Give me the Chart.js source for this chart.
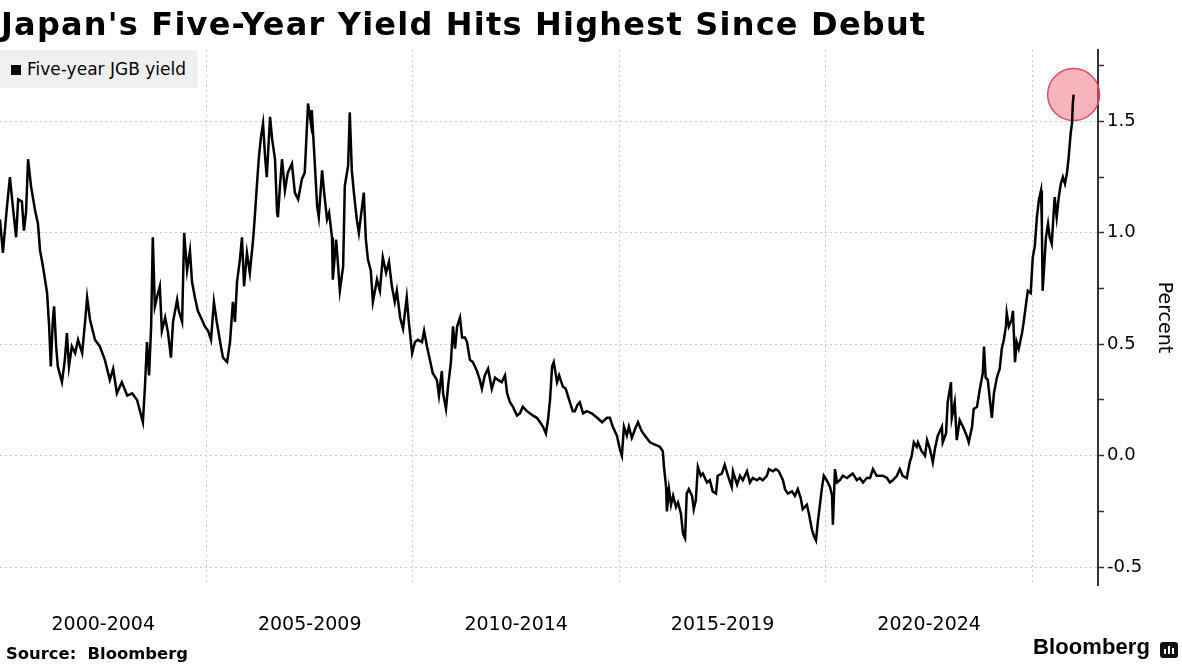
<!DOCTYPE html>
<html>
<head>
<meta charset="utf-8">
<title>Japan's Five-Year Yield Hits Highest Since Debut</title>
<script src="https://cdn.jsdelivr.net/npm/chart.js@4.4.1/dist/chart.umd.min.js"></script>
<style>
  body { margin: 0; background: #fff; }
  #wrap { position: relative; width: 1182px; height: 665px; overflow: hidden; font-family: "DejaVu Sans", Verdana, sans-serif; color: #000; }
  #chart { position: absolute; left: 0; top: 0; }
  .title { position: absolute; left: 1px; top: 5px; font-size: 32px; font-weight: bold; letter-spacing: 1.2px; white-space: nowrap; }
  .legend { position: absolute; left: 0; top: 50px; width: 197px; height: 38px; background: #f0f0f0; font-size: 17px; line-height: 38px; white-space: nowrap; }
  .legend i { display: inline-block; width: 10px; height: 10px; background: #000; margin: 0 6px 0 11px; }
  .source { position: absolute; left: 6px; top: 644px; font-size: 16.4px; font-weight: bold; white-space: nowrap; }
  .brand { position: absolute; left: 1033px; top: 634px; font-family: "Liberation Sans", Arial, sans-serif; font-size: 22px; font-weight: bold; letter-spacing: 0.1px; }
  .mark { position: absolute; left: 1160px; top: 642px; width: 18px; height: 16px; background: #111; border-radius: 3px; }
  .mark b { position: absolute; bottom: 4px; width: 2px; background: #fff; }
</style>
</head>
<body>
<div id="wrap">
  <canvas id="chart" width="1182" height="665"></canvas>
  <div class="title">Japan's Five-Year Yield Hits Highest Since Debut</div>
  <div class="legend"><i></i>Five-year JGB yield</div>
  <div class="source">Source:&nbsp; Bloomberg</div>
  <div class="brand">Bloomberg</div>
  <div class="mark"><b style="left:4px;height:5px"></b><b style="left:8px;height:8px"></b><b style="left:12px;height:6px"></b></div>
</div>
<script>
// five-year JGB yield (decimal year, percent)
const years = [
  2000.00, 2000.07, 2000.17, 2000.24, 2000.31, 2000.39, 2000.44, 2000.53, 2000.58, 2000.63, 2000.68, 2000.75, 2000.85, 2000.92, 2000.97,
  2001.04, 2001.14, 2001.19, 2001.23, 2001.28, 2001.31, 2001.36, 2001.40, 2001.50, 2001.57, 2001.62, 2001.67, 2001.74, 2001.82, 2001.89, 2001.99,
  2002.06, 2002.11, 2002.18, 2002.30, 2002.42, 2002.54, 2002.66, 2002.74, 2002.83, 2002.95,
  2003.08, 2003.20, 2003.32, 2003.46, 2003.51, 2003.56, 2003.61, 2003.66, 2003.70, 2003.75, 2003.80, 2003.87, 2003.92,
  2004.00, 2004.07, 2004.14, 2004.19, 2004.29, 2004.33, 2004.41, 2004.46, 2004.53, 2004.60, 2004.65, 2004.72, 2004.79, 2004.89, 2004.96,
  2005.04, 2005.11, 2005.18, 2005.25, 2005.35, 2005.40, 2005.50, 2005.57, 2005.64, 2005.69, 2005.74, 2005.81, 2005.86, 2005.91, 2005.98,
  2006.05, 2006.13, 2006.17, 2006.22, 2006.27, 2006.32, 2006.37, 2006.42, 2006.46, 2006.54, 2006.59, 2006.66, 2006.71, 2006.73, 2006.78, 2006.83, 2006.90, 2006.97,
  2007.07, 2007.14, 2007.22, 2007.31, 2007.38, 2007.46, 2007.53, 2007.55, 2007.60, 2007.68, 2007.72, 2007.80, 2007.85, 2007.92, 2007.97,
  2008.04, 2008.06, 2008.14, 2008.18, 2008.23, 2008.31, 2008.35, 2008.43, 2008.47, 2008.52, 2008.57, 2008.64, 2008.69, 2008.77, 2008.81, 2008.86, 2008.91, 2008.98,
  2009.03, 2009.08, 2009.13, 2009.20, 2009.27, 2009.35, 2009.42, 2009.49, 2009.56, 2009.61, 2009.69, 2009.76, 2009.85, 2009.90, 2009.98,
  2010.05, 2010.12, 2010.22, 2010.27, 2010.34, 2010.41, 2010.48, 2010.58, 2010.63, 2010.70, 2010.73, 2010.80, 2010.85, 2010.92, 2010.97,
  2011.02, 2011.07, 2011.14, 2011.19, 2011.26, 2011.31, 2011.38, 2011.45, 2011.55, 2011.62, 2011.67, 2011.74, 2011.82, 2011.91, 2011.99,
  2012.06, 2012.15, 2012.23, 2012.28, 2012.35, 2012.42, 2012.52, 2012.59, 2012.66, 2012.76, 2012.83, 2012.91,
  2013.00, 2013.08, 2013.15, 2013.22, 2013.27, 2013.32, 2013.37, 2013.41, 2013.49, 2013.54, 2013.63, 2013.70, 2013.80, 2013.87, 2013.92, 2013.99,
  2014.04, 2014.12, 2014.21, 2014.33, 2014.46, 2014.58, 2014.70, 2014.77, 2014.84, 2014.94,
  2015.01, 2015.06, 2015.11, 2015.18, 2015.23, 2015.30, 2015.38, 2015.45, 2015.54, 2015.62, 2015.74, 2015.86, 2015.98,
  2016.05, 2016.08, 2016.13, 2016.15, 2016.20, 2016.25, 2016.30, 2016.37, 2016.42, 2016.49, 2016.54, 2016.59, 2016.63, 2016.68, 2016.76, 2016.80, 2016.85, 2016.90,
  2016.97, 2017.02, 2017.12, 2017.19, 2017.26, 2017.34, 2017.38, 2017.48, 2017.55, 2017.63, 2017.72, 2017.75, 2017.85, 2017.92,
  2017.99, 2018.09, 2018.16, 2018.23, 2018.33, 2018.40, 2018.47, 2018.57, 2018.62, 2018.72, 2018.79, 2018.86, 2018.96,
  2019.01, 2019.08, 2019.18, 2019.25, 2019.32, 2019.39, 2019.44, 2019.54, 2019.59, 2019.66, 2019.71, 2019.76, 2019.81, 2019.85, 2019.90, 2019.95,
  2020.02, 2020.10, 2020.15, 2020.17, 2020.22, 2020.27, 2020.34, 2020.41, 2020.51, 2020.58, 2020.65, 2020.75, 2020.82, 2020.90, 2020.99,
  2021.07, 2021.14, 2021.23, 2021.31, 2021.38, 2021.48, 2021.55, 2021.62, 2021.72, 2021.79, 2021.86, 2021.96,
  2022.03, 2022.08, 2022.13, 2022.20, 2022.23, 2022.32, 2022.40, 2022.45, 2022.52, 2022.59, 2022.64, 2022.71, 2022.81, 2022.83, 2022.91, 2022.95, 2023.03, 2023.05, 2023.12,
  2023.17, 2023.24, 2023.32, 2023.41, 2023.46, 2023.54, 2023.58, 2023.66, 2023.73, 2023.80, 2023.83, 2023.87, 2023.92, 2023.99,
  2024.02, 2024.07, 2024.14, 2024.21, 2024.26, 2024.31, 2024.36, 2024.38, 2024.43, 2024.50, 2024.53, 2024.58, 2024.62, 2024.67, 2024.75, 2024.79, 2024.84, 2024.89, 2024.96,
  2025.01, 2025.06, 2025.11, 2025.16, 2025.21, 2025.23, 2025.25, 2025.30, 2025.33, 2025.38, 2025.42, 2025.47, 2025.50, 2025.54, 2025.59, 2025.64, 2025.69, 2025.74, 2025.79, 2025.84, 2025.88, 2025.93, 2025.96, 2025.98, 2026.00
];
const yields = [
  1.06, 0.91, 1.12, 1.25, 1.12, 0.98, 1.15, 1.14, 1.01, 1.09, 1.33, 1.21, 1.10, 1.04, 0.92,
  0.85, 0.73, 0.58, 0.40, 0.61, 0.67, 0.49, 0.40, 0.33, 0.43, 0.55, 0.40, 0.49, 0.46, 0.52, 0.46,
  0.60, 0.71, 0.61, 0.52, 0.49, 0.43, 0.34, 0.39, 0.28, 0.33,
  0.27, 0.28, 0.25, 0.15, 0.31, 0.51, 0.36, 0.58, 0.98, 0.67, 0.71, 0.76, 0.56,
  0.62, 0.55, 0.44, 0.60, 0.70, 0.65, 0.60, 1.00, 0.83, 0.92, 0.78, 0.71, 0.65, 0.61, 0.58,
  0.56, 0.52, 0.69, 0.60, 0.49, 0.44, 0.42, 0.51, 0.69, 0.60, 0.78, 0.88, 0.98, 0.76, 0.91,
  0.82, 0.97, 1.07, 1.21, 1.34, 1.43, 1.49, 1.34, 1.25, 1.52, 1.42, 1.33, 1.09, 1.07, 1.21, 1.33, 1.19, 1.27,
  1.31, 1.18, 1.15, 1.24, 1.27, 1.58, 1.49, 1.55, 1.39, 1.12, 1.07, 1.28, 1.18, 1.06, 1.09,
  0.98, 0.79, 0.97, 0.87, 0.74, 0.85, 1.21, 1.30, 1.54, 1.28, 1.18, 1.06, 1.00, 1.12, 1.18, 0.97, 0.88, 0.83,
  0.69, 0.74, 0.79, 0.74, 0.89, 0.82, 0.87, 0.76, 0.69, 0.74, 0.62, 0.57, 0.71, 0.60, 0.46,
  0.51, 0.52, 0.51, 0.56, 0.49, 0.43, 0.37, 0.34, 0.27, 0.38, 0.28, 0.21, 0.31, 0.42, 0.58,
  0.48, 0.58, 0.62, 0.53, 0.53, 0.51, 0.43, 0.42, 0.38, 0.34, 0.30, 0.36, 0.39, 0.30, 0.35,
  0.34, 0.33, 0.36, 0.28, 0.24, 0.22, 0.18, 0.19, 0.22, 0.20, 0.19, 0.18,
  0.17, 0.15, 0.13, 0.10, 0.16, 0.25, 0.40, 0.42, 0.33, 0.36, 0.31, 0.30, 0.24, 0.20, 0.20, 0.23,
  0.24, 0.19, 0.20, 0.19, 0.17, 0.15, 0.17, 0.17, 0.13, 0.09,
  0.03, 0.00, 0.13, 0.09, 0.13, 0.08, 0.12, 0.15, 0.11, 0.09, 0.06, 0.05, 0.04,
  0.02, -0.05, -0.14, -0.25, -0.15, -0.22, -0.18, -0.23, -0.21, -0.26, -0.35, -0.37, -0.17, -0.15, -0.18, -0.24, -0.20, -0.05,
  -0.09, -0.08, -0.12, -0.11, -0.16, -0.17, -0.09, -0.08, -0.04, -0.09, -0.14, -0.07, -0.13, -0.09,
  -0.11, -0.07, -0.12, -0.10, -0.11, -0.10, -0.11, -0.09, -0.06, -0.07, -0.06, -0.07, -0.11,
  -0.15, -0.17, -0.16, -0.18, -0.15, -0.19, -0.24, -0.22, -0.26, -0.33, -0.36, -0.38, -0.29, -0.23, -0.15, -0.09,
  -0.11, -0.14, -0.18, -0.31, -0.06, -0.12, -0.11, -0.09, -0.10, -0.09, -0.08, -0.11, -0.10, -0.12, -0.10,
  -0.10, -0.06, -0.09, -0.09, -0.09, -0.10, -0.12, -0.11, -0.09, -0.06, -0.09, -0.10,
  -0.03, 0.00, 0.06, 0.04, 0.06, 0.02, 0.00, 0.07, 0.03, -0.03, 0.03, 0.09, 0.13, 0.06, 0.10, 0.24, 0.33, 0.17, 0.24,
  0.07, 0.16, 0.13, 0.09, 0.06, 0.13, 0.21, 0.22, 0.30, 0.37, 0.49, 0.35, 0.34, 0.22,
  0.17, 0.28, 0.35, 0.39, 0.48, 0.52, 0.58, 0.64, 0.58, 0.61, 0.65, 0.42, 0.51, 0.48, 0.55, 0.60, 0.67, 0.74, 0.73,
  0.89, 0.94, 1.07, 1.15, 1.19, 1.04, 0.74, 0.89, 0.98, 1.04, 0.98, 0.95, 1.04, 1.16, 1.07, 1.16, 1.22, 1.25, 1.22, 1.27, 1.34, 1.45, 1.49, 1.58, 1.62
];

// x axis: five-year periods, label centred in each, grid line at each boundary
const periodStarts = [2000, 2005, 2010, 2015, 2020];
const periodLabels = ['2000-2004', '2005-2009', '2010-2014', '2015-2019', '2020-2024'];
const gridYears = [2005, 2010, 2015, 2020, 2025];
const xMin = 2000, xMax = 2026.59;

// y axis: labelled every 0.5, small ticks every 0.25
const yTicks = [-0.5, -0.25, 0, 0.25, 0.5, 0.75, 1.0, 1.25, 1.5, 1.75];
const yMin = -0.58, yMax = 1.82;

const FONT = 'DejaVu Sans';
const isHalf = v => Math.abs(v * 2 - Math.round(v * 2)) < 1e-6;

const points = years.map((x, i) => ({ x: x, y: yields[i] }));
const last = points[points.length - 1];

const xTicks = [];
periodStarts.forEach((s, i) => { xTicks.push(s + 2.5); xTicks.push(gridYears[i]); });

// keep the plot area flush with the canvas edges
const noPad = (s) => { s.paddingLeft = 0; s.paddingRight = 0; s.paddingTop = 0; s.paddingBottom = 0; };

new Chart(document.getElementById('chart').getContext('2d'), {
  type: 'line',
  data: {
    datasets: [
      {
        label: 'Five-year JGB yield',
        data: points,
        borderColor: '#000',
        borderWidth: 2.5,
        pointRadius: 0,
        tension: 0,
        order: 0
      },
      {
        // highlight around the latest reading
        label: 'latest',
        data: [last],
        showLine: false,
        pointRadius: 26,
        pointHoverRadius: 26,
        pointBackgroundColor: 'rgba(240, 105, 122, 0.5)',
        pointBorderColor: '#dc4a5c',
        pointBorderWidth: 1.5,
        clip: false,
        order: 1
      }
    ]
  },
  options: {
    responsive: false,
    animation: false,
    events: [],
    layout: { autoPadding: false, padding: { top: 50, left: 0, right: 0, bottom: 0 } },
    plugins: { legend: { display: false }, tooltip: { enabled: false } },
    scales: {
      x: {
        type: 'linear',
        min: xMin,
        max: xMax,
        afterFit: (s) => { s.height = 80; noPad(s); },
        afterBuildTicks: (s) => { s.ticks = xTicks.map(v => ({ value: v })); },
        grid: {
          color: (c) => (c.tick && gridYears.includes(c.tick.value)) ? '#cccccc' : 'rgba(0,0,0,0)',
          lineWidth: 1,
          drawTicks: false
        },
        border: { display: false, dash: [2, 3] },
        ticks: {
          autoSkip: false,
          maxRotation: 0,
          padding: 29,
          color: '#000',
          font: { family: FONT, size: 19 },
          callback: (v) => {
            const i = periodStarts.indexOf(v - 2.5);
            return i >= 0 ? periodLabels[i] : '';
          }
        }
      },
      y: {
        type: 'linear',
        position: 'right',
        min: yMin,
        max: yMax,
        afterFit: (s) => { s.width = 84; noPad(s); },
        afterBuildTicks: (s) => { s.ticks = yTicks.map(v => ({ value: v })); },
        grid: {
          color: (c) => (c.tick && isHalf(c.tick.value)) ? '#cccccc' : 'rgba(0,0,0,0)',
          lineWidth: 1,
          tickColor: '#333',
          tickLength: 6,
          tickWidth: 1.5
        },
        border: { color: '#333', width: 2, dash: [2, 3] },
        ticks: {
          autoSkip: false,
          padding: 3,
          color: '#000',
          font: { family: FONT, size: 18 },
          callback: (v) => isHalf(v) ? v.toFixed(1) : ''
        },
        title: {
          display: true,
          text: 'Percent',
          color: '#000',
          font: { family: FONT, size: 19 },
          padding: { top: 7, bottom: 0 }
        }
      }
    }
  }
});
</script>
</body>
</html>
